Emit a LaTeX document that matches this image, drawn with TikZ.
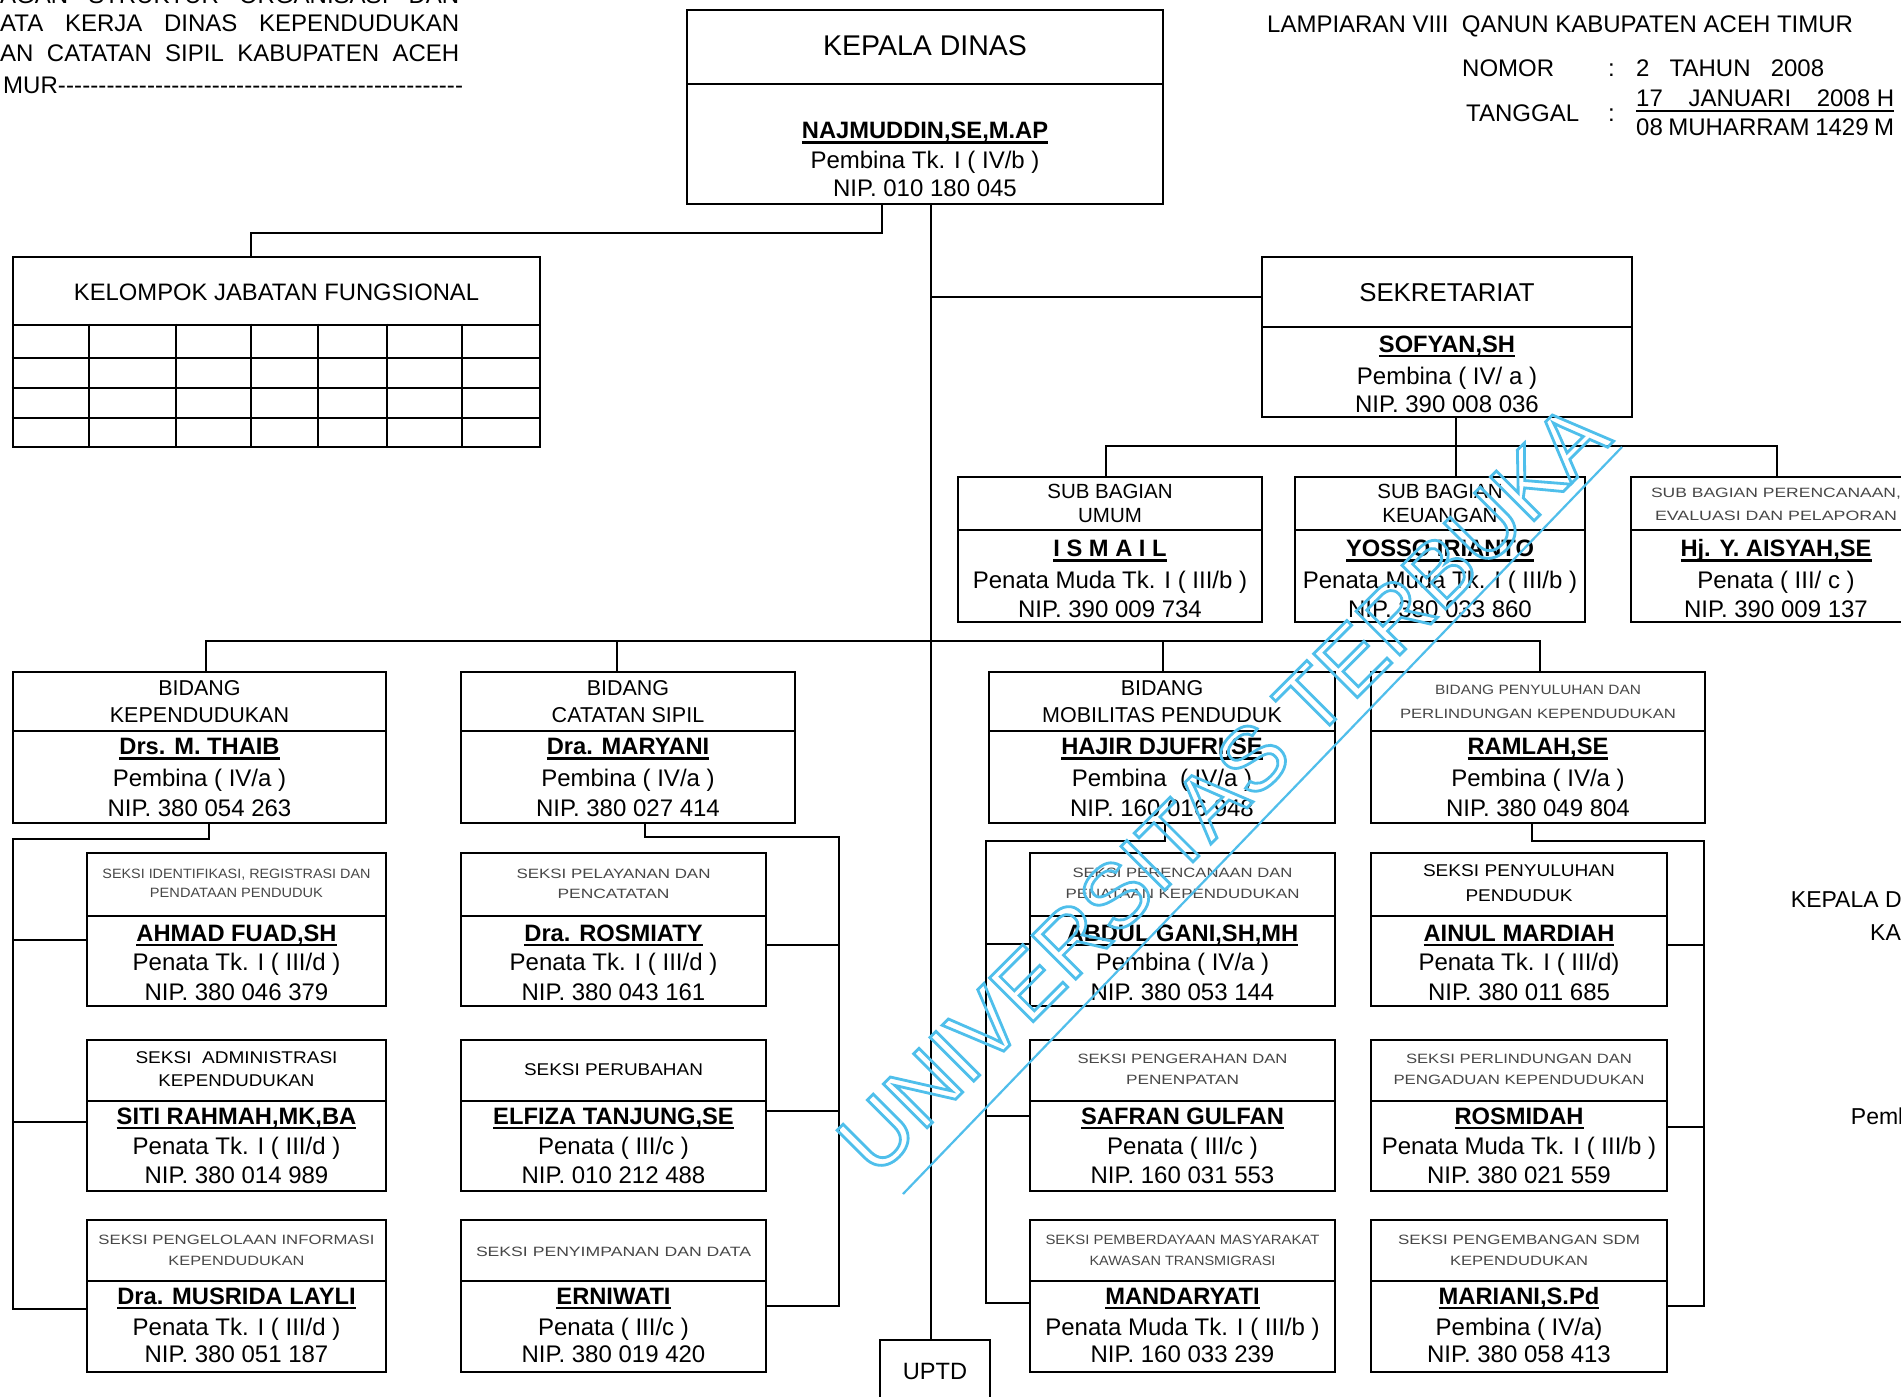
\documentclass[tikz,border=0pt]{standalone}
\usepackage{fontspec}
\setmainfont{Liberation Sans}
\usepackage{graphicx}
\usetikzlibrary{calc}
\definecolor{wm}{RGB}{80,190,235}
\newsavebox\ulbox
\newcommand\ul[1]{\sbox\ulbox{#1}\rlap{\rule[-5pt]{\wd\ulbox}{2.4pt}}\usebox\ulbox}
\newcommand\fs[1]{\fontsize{#1}{#1}\selectfont}
\tikzset{
  box/.style={draw, line width=2.8pt, rectangle, inner sep=0pt},
  cn/.style={line width=2.4pt},
  grid/.style={line width=2.6pt},
  tx/.style={anchor=base, inner sep=0pt},
}
% box: name x1 y1 x2 y2
\newcommand\bx[5]{\pgfmathsetmacro\bxw{#4-#2}\pgfmathsetmacro\bxh{#5-#3}%
  \pgfmathsetmacro\bxx{(#2+#4)/2}\pgfmathsetmacro\bxy{(#3+#5)/2}%
  \node[box,minimum width=\bxw pt,minimum height=\bxh pt] (#1) at (\bxx,\bxy) {};}
% person body: id cx yname yrank ynip name rank nip
\newcommand\pb[8]{%
  \node[tx] (#1n) at (#2,#3) {\fs{23.7}\bfseries\ul{#6}};
  \node[tx] (#1r) at (#2,#4) {\fs{24}#7};
  \node[tx] (#1p) at (#2,#5) {\fs{24}#8};}
\newcommand\hl[5]{\node[tx,text=black!72] (#1) at (#2,#3) {\fs{13.5}\resizebox{#4pt}{\height}{#5}};}
\newcommand\hb[5]{\node[tx] (#1) at (#2,#3) {\fs{17}\resizebox{#4pt}{\height}{#5}};}
\newcommand\hn[5]{\node[tx] (#1) at (#2,#3) {\fs{#4}#5};}
\begin{document}
\begin{tikzpicture}[x=1pt,y=-1pt]
\useasboundingbox (0,0) rectangle (1901,1397);
\clip (0,0) rectangle (1901,1397);
\fill[white] (0,0) rectangle (1901,1397);

% ---------- header texts ----------
\node[tx,anchor=base west] (hl1) at (0,4) {\fs{24}\makebox[459pt][s]{AGAN STRUKTUR ORGANISASI DAN}};
\node[tx,anchor=base west] (hl2) at (0,31.5) {\fs{24}\makebox[459pt][s]{ATA KERJA DINAS KEPENDUDUKAN}};
\node[tx,anchor=base west] (hl3) at (0,62) {\fs{24}\makebox[459pt][s]{AN CATATAN SIPIL KABUPATEN ACEH}};
\node[tx,anchor=base west] (hl4) at (0,93) {\fs{24}\makebox[463pt][l]{\hspace{3pt}MUR\xleaders\hbox{-}\hfill}};

\node[tx,anchor=base west] (hr1) at (1267,32.6) {\fs{24}LAMPIARAN VIII\ \ QANUN KABUPATEN ACEH TIMUR};
\node[tx,anchor=base west] (hr2) at (1462,76.6) {\fs{24}NOMOR};
\node[tx,anchor=base west] (hr3) at (1608,76.6) {\fs{24}:};
\node[tx,anchor=base west] (hr4) at (1636,76.6) {\fs{24}\makebox[188pt][s]{2 TAHUN 2008}};
\node[tx,anchor=base west] (hr5) at (1466,121.4) {\fs{24}TANGGAL};
\node[tx,anchor=base west] (hr6) at (1608,121.4) {\fs{24}:};
\node[tx,anchor=base west] (hr7) at (1636,106.6) {\fs{24}\makebox[258pt][l]{17\hfill JANUARI\hfill 2008 H}};
\node[tx,anchor=base west] (hr8) at (1636,135.6) {\fs{24}\makebox[258pt][s]{08 MUHARRAM 1429 M}};
\draw[line width=2pt] ([yshift=-4pt]hr7.base west) -- ([yshift=-4pt]hr7.base east);

% ---------- KEPALA DINAS ----------
\bx{kdh}{687}{10}{1163}{84}
\bx{kdb}{687}{84}{1163}{204}
\hn{kdt}{925}{55.7}{28.5}{KEPALA DINAS}
\pb{kd}{925}{138.6}{168.6}{196.6}{NAJMUDDIN,SE,M.AP}{Pembina Tk. I ( IV/b )}{NIP. 010 180 045}

% ---------- KELOMPOK JABATAN FUNGSIONAL ----------
\bx{kjfh}{13}{257}{540}{325}
\bx{kjfg}{13}{325}{540}{447}
\hn{kjft}{276.5}{300.6}{23.8}{KELOMPOK JABATAN FUNGSIONAL}
\foreach \yy in {358,388,418} {\draw[grid] (kjfg.west |- 0,\yy) -- (kjfg.east |- 0,\yy);}
\foreach \xx in {89,176,251,318,387,462} {\draw[grid] (kjfg.north -| \xx,0) -- (kjfg.south -| \xx,0);}

% ---------- SEKRETARIAT ----------
\bx{sekh}{1262}{257}{1632}{327}
\bx{sekb}{1262}{327}{1632}{417}
\hn{sekt}{1447}{301.3}{25.8}{SEKRETARIAT}
\pb{sek}{1447}{352}{384}{412}{SOFYAN,SH}{Pembina ( IV/ a )}{NIP. 390 008 036}

% ---------- SUB BAGIAN ----------
\bx{umh}{958}{477}{1262}{530}
\bx{umb}{958}{530}{1262}{622}
\hn{umt1}{1110}{498}{20.5}{SUB BAGIAN}
\hn{umt2}{1110}{522.5}{20.5}{UMUM}
\pb{um}{1110}{556.6}{588.6}{617}{I S M A I L}{Penata Muda Tk. I ( III/b )}{NIP. 390 009 734}

\bx{keuh}{1295}{477}{1585}{530}
\bx{keub}{1295}{530}{1585}{622}
\hn{keut1}{1440}{498}{20.5}{SUB BAGIAN}
\hn{keut2}{1440}{522.5}{20.5}{KEUANGAN}
\pb{keu}{1440}{556.6}{588.6}{617}{YOSSO IRIANTO}{Penata Muda Tk. I ( III/b )}{NIP. 380 033 860}

\bx{perh}{1631}{477}{1921}{530}
\bx{perb}{1631}{530}{1921}{622}
\hl{pert1}{1776}{497.8}{250}{SUB BAGIAN PERENCANAAN,}
\hl{pert2}{1776}{520.8}{242}{EVALUASI DAN PELAPORAN}
\pb{per}{1776}{556.6}{588.6}{617}{Hj. Y. AISYAH,SE}{Penata ( III/ c )}{NIP. 390 009 137}

% ---------- BIDANG ----------
\bx{keph}{13}{672}{386}{731}
\bx{kepb}{13}{731}{386}{823}
\hn{kept1}{199.5}{695.7}{21.5}{BIDANG}
\hn{kept2}{199.5}{722.7}{21.5}{KEPENDUDUKAN}
\pb{kep}{199.5}{754.6}{786.6}{816.6}{Drs. M. THAIB}{Pembina ( IV/a )}{NIP. 380 054 263}

\bx{csh}{461}{672}{795}{731}
\bx{csb}{461}{731}{795}{823}
\hn{cst1}{628}{695.7}{21.5}{BIDANG}
\hn{cst2}{628}{722.7}{21.5}{CATATAN SIPIL}
\pb{cs}{628}{754.6}{786.6}{816.6}{Dra. MARYANI}{Pembina ( IV/a )}{NIP. 380 027 414}

\bx{mobh}{989}{672}{1335}{731}
\bx{mobb}{989}{731}{1335}{823}
\hn{mobt1}{1162}{695.7}{21.5}{BIDANG}
\hn{mobt2}{1162}{722.7}{21.5}{MOBILITAS PENDUDUK}
\pb{mob}{1162}{754.6}{786.6}{816.6}{HAJIR DJUFRI,SE}{Pembina\ \ ( IV/a )}{NIP. 160 016 948}

\bx{penh}{1371}{672}{1705}{731}
\bx{penb}{1371}{731}{1705}{823}
\hl{pent1}{1538}{694.8}{206}{BIDANG PENYULUHAN DAN}
\hl{pent2}{1538}{718.8}{276}{PERLINDUNGAN KEPENDUDUKAN}
\pb{pen}{1538}{754.6}{786.6}{816.6}{RAMLAH,SE}{Pembina ( IV/a )}{NIP. 380 049 804}

% ---------- SEKSI row 1 ----------
\bx{sa1h}{87}{853}{386}{916}   \bx{sa1b}{87}{916}{386}{1006}
\bx{sb1h}{461}{853}{766}{916}  \bx{sb1b}{461}{916}{766}{1006}
\bx{sc1h}{1030}{853}{1335}{916} \bx{sc1b}{1030}{916}{1335}{1006}
\bx{sd1h}{1371}{853}{1667}{916} \bx{sd1b}{1371}{916}{1667}{1006}
\hl{sa1t1}{236.5}{878.3}{268}{SEKSI IDENTIFIKASI, REGISTRASI DAN}
\hl{sa1t2}{236.5}{897.8}{173}{PENDATAAN PENDUDUK}
\pb{sa1}{236.5}{941.1}{970.6}{1000.6}{AHMAD FUAD,SH}{Penata Tk. I ( III/d )}{NIP. 380 046 379}
\hl{sb1t1}{613.5}{878.3}{194}{SEKSI PELAYANAN DAN}
\hl{sb1t2}{613.5}{898.8}{112}{PENCATATAN}
\pb{sb1}{613.5}{941.1}{970.6}{1000.6}{Dra. ROSMIATY}{Penata Tk. I ( III/d )}{NIP. 380 043 161}
\hl{sc1t1}{1182.5}{877.8}{220}{SEKSI PERENCANAAN DAN}
\hl{sc1t2}{1182.5}{898.8}{234}{PENATAAN KEPENDUDUKAN}
\pb{sc1}{1182.5}{941.1}{970.6}{1000.6}{ABDUL GANI,SH,MH}{Pembina ( IV/a )}{NIP. 380 053 144}
\hb{sd1t1}{1519}{876.1}{192}{SEKSI PENYULUHAN}
\hb{sd1t2}{1519}{901.1}{107}{PENDUDUK}
\pb{sd1}{1519}{941.1}{970.6}{1000.6}{AINUL MARDIAH}{Penata Tk. I ( III/d)}{NIP. 380 011 685}

% ---------- SEKSI row 2 ----------
\bx{sa2h}{87}{1040}{386}{1101}   \bx{sa2b}{87}{1101}{386}{1191}
\bx{sb2h}{461}{1040}{766}{1101}  \bx{sb2b}{461}{1101}{766}{1191}
\bx{sc2h}{1030}{1040}{1335}{1101} \bx{sc2b}{1030}{1101}{1335}{1191}
\bx{sd2h}{1371}{1040}{1667}{1101} \bx{sd2b}{1371}{1101}{1667}{1191}
\hb{sa2t1}{236.5}{1063.1}{202}{SEKSI\ \ ADMINISTRASI}
\hb{sa2t2}{236.5}{1086.1}{156}{KEPENDUDUKAN}
\pb{sa2}{236.5}{1124.1}{1154.6}{1183.6}{SITI RAHMAH,MK,BA}{Penata Tk. I ( III/d )}{NIP. 380 014 989}
\hb{sb2t1}{613.5}{1075.1}{179}{SEKSI PERUBAHAN}
\pb{sb2}{613.5}{1124.1}{1154.6}{1183.6}{ELFIZA TANJUNG,SE}{Penata ( III/c )}{NIP. 010 212 488}
\hl{sc2t1}{1182.5}{1063.1}{210}{SEKSI PENGERAHAN DAN}
\hl{sc2t2}{1182.5}{1084.8}{113}{PENENPATAN}
\pb{sc2}{1182.5}{1124.1}{1154.6}{1183.6}{SAFRAN GULFAN}{Penata ( III/c )}{NIP. 160 031 553}
\hl{sd2t1}{1519}{1063.1}{226}{SEKSI PERLINDUNGAN DAN}
\hl{sd2t2}{1519}{1084.8}{251}{PENGADUAN KEPENDUDUKAN}
\pb{sd2}{1519}{1124.1}{1154.6}{1183.6}{ROSMIDAH}{Penata Muda Tk. I ( III/b )}{NIP. 380 021 559}

% ---------- SEKSI row 3 ----------
\bx{sa3h}{87}{1220}{386}{1281}   \bx{sa3b}{87}{1281}{386}{1372}
\bx{sb3h}{461}{1220}{766}{1281}  \bx{sb3b}{461}{1281}{766}{1372}
\bx{sc3h}{1030}{1220}{1335}{1281} \bx{sc3b}{1030}{1281}{1335}{1372}
\bx{sd3h}{1371}{1220}{1667}{1281} \bx{sd3b}{1371}{1281}{1667}{1372}
\hl{sa3t1}{236.5}{1244.8}{276}{SEKSI PENGELOLAAN INFORMASI}
\hl{sa3t2}{236.5}{1265.8}{136}{KEPENDUDUKAN}
\pb{sa3}{236.5}{1304.1}{1335.1}{1362.6}{Dra. MUSRIDA LAYLI}{Penata Tk. I ( III/d )}{NIP. 380 051 187}
\hl{sb3t1}{613.5}{1256.8}{275}{SEKSI PENYIMPANAN DAN DATA}
\pb{sb3}{613.5}{1304.1}{1335.1}{1362.6}{ERNIWATI}{Penata ( III/c )}{NIP. 380 019 420}
\hl{sc3t1}{1182.5}{1244.8}{274}{SEKSI PEMBERDAYAAN MASYARAKAT}
\hl{sc3t2}{1182.5}{1265.8}{186}{KAWASAN TRANSMIGRASI}
\pb{sc3}{1182.5}{1304.1}{1335.1}{1362.6}{MANDARYATI}{Penata Muda Tk. I ( III/b )}{NIP. 160 033 239}
\hl{sd3t1}{1519}{1244.8}{242}{SEKSI PENGEMBANGAN SDM}
\hl{sd3t2}{1519}{1265.8}{138}{KEPENDUDUKAN}
\pb{sd3}{1519}{1304.1}{1335.1}{1362.6}{MARIANI,S.Pd}{Pembina ( IV/a)}{NIP. 380 058 413}

% ---------- UPTD ----------
\bx{uptd}{880}{1340}{990}{1420}
\hn{uptdt}{935}{1379.5}{23.6}{UPTD}

% ---------- right edge partial texts ----------
\node[tx,anchor=base west] (rk1) at (1790.7,907) {\fs{23}KEPALA D};
\node[tx,anchor=base west] (rk2) at (1870,940) {\fs{23}KA};
\node[tx,anchor=base west] (rk3) at (1850.7,1124) {\fs{23}Pemb};

% ---------- connectors ----------
\coordinate (j1) at (882,233);
\coordinate (j2) at (251,233);
\draw[cn] (kdb.south -| j1) -- (j1) -- (j2) -- (j2 |- kjfh.north);
\coordinate (sp) at (931,297);
\draw[cn] (kdb.south -| sp) -- (uptd.north -| sp);
\draw[cn] (sp) -- (sp -| sekh.west);
\coordinate (s0) at (1106,446);
\coordinate (s1) at (1456,446);
\coordinate (s2) at (1777,446);
\draw[cn] (sekb.south -| s1) -- (keuh.north -| s1);
\draw[cn] (s0 |- umh.north) -- (s0) -- (s2) -- (s2 |- perh.north);
\coordinate (m1) at (206,641);
\coordinate (m2) at (617,641);
\coordinate (m3) at (1163,641);
\coordinate (m4) at (1540,641);
\draw[cn] (m1 |- keph.north) -- (m1) -- (m4) -- (m4 |- penh.north);
\draw[cn] (m2) -- (m2 |- csh.north);
\draw[cn] (m3) -- (m3 |- mobh.north);
% Bidang Kependudukan
\coordinate (a1) at (209,839); \coordinate (a2) at (13,839); \coordinate (a3) at (13,1309);
\coordinate (a4) at (13,940); \coordinate (a5) at (13,1122);
\draw[cn] (kepb.south -| a1) -- (a1) -- (a2) -- (a3) -- (a3 -| sa3b.west);
\draw[cn] (a4) -- (a4 -| sa1b.west);
\draw[cn] (a5) -- (a5 -| sa2b.west);
% Bidang Catatan Sipil
\coordinate (b1) at (645,837); \coordinate (b2) at (839,837); \coordinate (b3) at (839,1306);
\coordinate (b4) at (839,945); \coordinate (b5) at (839,1111);
\draw[cn] (csb.south -| b1) -- (b1) -- (b2) -- (b3) -- (b3 -| sb3b.east);
\draw[cn] (b4) -- (b4 -| sb1b.east);
\draw[cn] (b5) -- (b5 -| sb2b.east);
% Bidang Mobilitas
\coordinate (c1) at (1165,841); \coordinate (c2) at (986,841); \coordinate (c3) at (986,1303);
\coordinate (c4) at (986,944); \coordinate (c5) at (986,1116);
\draw[cn] (mobb.south -| c1) -- (c1) -- (c2) -- (c3) -- (c3 -| sc3b.west);
\draw[cn] (c4) -- (c4 -| sc1b.west);
\draw[cn] (c5) -- (c5 -| sc2b.west);
% Bidang Penyuluhan
\coordinate (d1) at (1532,841); \coordinate (d2) at (1704,841); \coordinate (d3) at (1704,1306);
\coordinate (d4) at (1704,945); \coordinate (d5) at (1704,1127);
\draw[cn] (penb.south -| d1) -- (d1) -- (d2) -- (d3) -- (d3 -| sd3b.east);
\draw[cn] (d4) -- (d4 -| sd1b.east);
\draw[cn] (d5) -- (d5 -| sd2b.east);

% ---------- watermark ----------
\node[rotate=45, inner sep=0pt, text=wm] (wmk) at (1223,788)
  {\fs{90}\special{pdf:code 0.31 0.75 0.92 RG 2.8 w 1 Tr}UNIVERSITAS TERBUKA\special{pdf:code 0 Tr}};
\coordinate (wl1) at (903,1194);
\coordinate (wl2) at (1622,447);
\draw[wm, line width=2.2pt] (wl1) -- (wl2);
\end{tikzpicture}
\end{document}
